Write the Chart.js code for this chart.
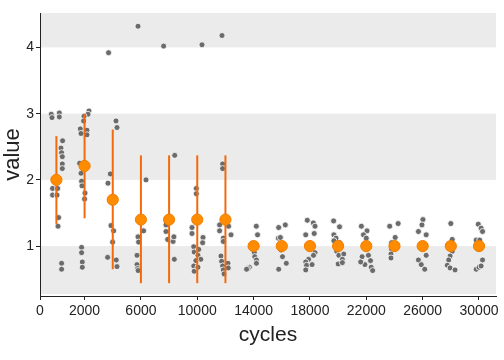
<!DOCTYPE html>
<html><head><meta charset="utf-8">
<script src="https://cdn.jsdelivr.net/npm/chart.js@4/dist/chart.umd.min.js"></script>
<style>html,body{margin:0;padding:0;background:#fff;}#wrap{width:504px;height:360px;position:relative;}</style>
</head><body><div id="wrap"><canvas id="c"></canvas></div>
<script>
// summary per cycle level
const cycles = [0,2000,4000,6000,8000,10000,12000,14000,16000,18000,20000,22000,24000,26000,28000,30000];
const meanValues = [2.0,2.21,1.70,1.40,1.40,1.40,1.40,1.0,1.0,1.0,1.0,1.0,1.0,1.0,1.0,1.0];
const errCycles = [0,2000,4000,6000,8000,10000,12000];
const errLow  = [1.33,1.42,0.65,0.44,0.44,0.44,0.44];
const errHigh = [2.66,3.00,2.76,2.37,2.37,2.37,2.37];
// tick labels
const xTickLabels = ['0','2000','6000','10000','14000','18000','22000','26000','30000'];
const yTickValues = [1,2,3,4];
// jittered observations [cycles, value]
const pts0 = [[-362,2.99],[-313,2.94],[206,3.01],[206,2.95],[440,2.59],[327,2.48],[369,2.41],[419,2.35],[419,2.24],[419,2.17],[-270,1.87],[85,1.87],[-270,1.77],[43,1.77],[156,1.43],[114,1.30],[369,0.74],[369,0.65]];
const pts2000 = [[2314,3.04],[2243,2.99],[1960,2.96],[1931,2.89],[1697,2.77],[1746,2.70],[2172,2.75],[2172,2.68],[1647,2.25],[1746,2.10],[1789,1.98],[1817,1.91],[2030,1.80],[2000,1.71],[1789,0.98],[1789,0.90],[1838,0.76],[1838,0.68]];
const pts4000 = [[3705,3.92],[4231,2.89],[4302,2.79],[3826,2.09],[3663,1.95],[3876,1.31],[4061,1.23],[3990,1.06],[3635,0.83],[4252,0.79],[4302,0.69]];
const pts6000 = [[5793,4.32],[6361,2.0],[6190,1.23],[5793,1.14],[5836,1.06],[5722,0.86],[5722,0.72],[5765,0.66],[5800,0.63]];
const pts8000 = [[7612,4.02],[8400,2.37],[7780,1.32],[7780,1.22],[7900,1.10],[8280,1.07],[8340,1.14],[8370,0.80]];
const pts10000 = [[10337,4.04],[9932,1.87],[9932,1.79],[9627,1.28],[9627,1.19],[10408,1.13],[10380,1.05],[9750,0.99],[9780,0.91],[10050,0.86],[10250,0.80],[9900,0.78],[9750,0.70],[9780,0.62],[10050,0.68],[10100,0.95]];
const pts12000 = [[11757,4.18],[11800,2.24],[11800,2.17],[11587,1.32],[11587,1.23],[12225,1.30],[12395,1.17],[11850,1.12],[11850,1.07],[11680,0.85],[11730,0.77],[11800,0.70],[11850,0.64],[12180,0.74],[12200,0.67],[11900,0.58]];
const pts14000 = [[14190,1.30],[14280,1.17],[14050,0.90],[14080,0.84],[14200,0.79],[14200,0.74],[13700,0.68],[13600,0.66],[13500,0.65]];
const pts16000 = [[15780,1.28],[16250,1.32],[15760,1.12],[15900,1.13],[15950,1.04],[15950,0.94],[16050,0.84],[16320,0.74],[15780,0.65]];
const pts18000 = [[17810,1.39],[18240,1.35],[18360,1.30],[17700,1.17],[18300,1.19],[18360,0.90],[18250,0.86],[17900,0.80],[17700,0.76],[17760,0.71],[18150,0.72],[17700,0.64]];
const pts20000 = [[19680,1.38],[20100,1.29],[19700,1.17],[19850,1.12],[20100,1.05],[19900,0.92],[20050,0.86],[20400,0.88],[20300,0.80],[20000,0.73],[20300,0.75],[19700,1.08]];
const pts22000 = [[21650,1.30],[22050,1.23],[21800,1.17],[22000,1.12],[21700,0.84],[22150,0.86],[22300,0.78],[21900,0.72],[22350,0.68],[22450,0.63],[21600,0.76]];
const pts24000 = [[23660,1.30],[24260,1.34],[24050,1.13],[23800,0.95],[23750,0.88],[23750,0.82],[23800,1.05]];
const pts26000 = [[26020,1.40],[25950,1.32],[25700,1.22],[26250,1.17],[26250,0.86],[25700,0.79],[25900,0.72],[26150,0.65]];
const pts28000 = [[28000,1.34],[28100,1.10],[28100,0.92],[27950,0.85],[27850,0.79],[27750,0.71],[27950,0.67],[28300,0.64]];
const pts30000 = [[29950,1.33],[30150,1.27],[30250,1.22],[29800,1.09],[30050,1.09],[30250,0.79],[29800,0.65],[30000,0.68],[30150,0.70]];
const observations = [pts0,pts2000,pts4000,pts6000,pts8000,pts10000,pts12000,pts14000,pts16000,pts18000,pts20000,pts22000,pts24000,pts26000,pts28000,pts30000];

const bandRanges = [[0,1],[2,3],[4,5]];

const rawData = [];
observations.forEach(g => g.forEach(p => rawData.push({x:p[0], y:p[1]})));
const meanData = cycles.map((c,i)=>({x:c, y:meanValues[i]}));

const bandPlugin = {
  id:'bands',
  beforeDatasetsDraw(chart){
    const {ctx, chartArea:a, scales:{y}} = chart;
    ctx.save();
    ctx.fillStyle = '#ebebeb';
    bandRanges.forEach(([lo,hi])=>{
      let top = Math.max(a.top, y.getPixelForValue(hi));
      let bot = Math.min(a.bottom-2, y.getPixelForValue(lo));
      if (bot>top) ctx.fillRect(a.left+1, top, a.right-a.left-1, bot-top);
    });
    ctx.restore();
  }
};
const errPlugin = {
  id:'errbars',
  beforeDatasetDraw(chart, args){
    if (args.index !== 1) return;
    const {ctx, scales:{x,y}} = chart;
    ctx.save();
    ctx.strokeStyle = '#f26a0e';
    ctx.lineWidth = 2;
    errCycles.forEach((c,i)=>{
      const px = x.getPixelForValue(c);
      ctx.beginPath();
      ctx.moveTo(px, y.getPixelForValue(errLow[i]));
      ctx.lineTo(px, y.getPixelForValue(errHigh[i]));
      ctx.stroke();
    });
    ctx.restore();
  }
};

const tickFont = {family:'"Liberation Sans", Arial, sans-serif', size:14};

new Chart(document.getElementById('c'), {
  type:'scatter',
  data:{datasets:[
    {data:rawData, backgroundColor:'#6b6b6b', borderColor:'#ffffff', borderWidth:0.8, pointRadius:3, order:2},
    {data:meanData, backgroundColor:'#ff8c00', borderColor:'#f07d00', borderWidth:1, pointRadius:5.6, order:1}
  ]},
  options:{
    responsive:true, maintainAspectRatio:false, animation:false,
    layout:{padding:{top:13, right:8, left:0, bottom:0}},
    plugins:{legend:{display:false}, tooltip:{enabled:false}},
    scales:{
      x:{type:'linear', min:-1164, max:31207,
        afterBuildTicks(s){ s.ticks = xTickLabels.map((l,i)=>({value: i===0 ? s.min : Number(l)})); },
        afterFit(s){ s.height = 64; },
        ticks:{font:tickFont, color:'#222', padding:3, maxRotation:0, autoSkip:false,
          callback:(v,i)=>xTickLabels[i]},
        grid:{display:true, drawOnChartArea:false, drawTicks:true, tickLength:4, color:'#222'},
        border:{display:true, color:'#222', width:1},
        title:{display:true, text:'cycles', font:{family:'"Liberation Sans", Arial, sans-serif', size:21}, color:'#222', padding:{top:0,bottom:12}}
      },
      y:{type:'linear', min:0.246, max:4.52,
        afterBuildTicks(s){ s.ticks = yTickValues.map(v=>({value:v})); },
        afterFit(s){ s.width = 40; },
        ticks:{font:tickFont, color:'#222', padding:2},
        grid:{display:true, drawOnChartArea:false, drawTicks:true, tickLength:4, color:'#222'},
        border:{display:true, color:'#222', width:1},
        title:{display:true, text:'value', font:{family:'"Liberation Sans", Arial, sans-serif', size:22}, color:'#222', padding:{top:0,bottom:0}}
      }
    }
  },
  plugins:[bandPlugin, errPlugin]
});
</script></body></html>
